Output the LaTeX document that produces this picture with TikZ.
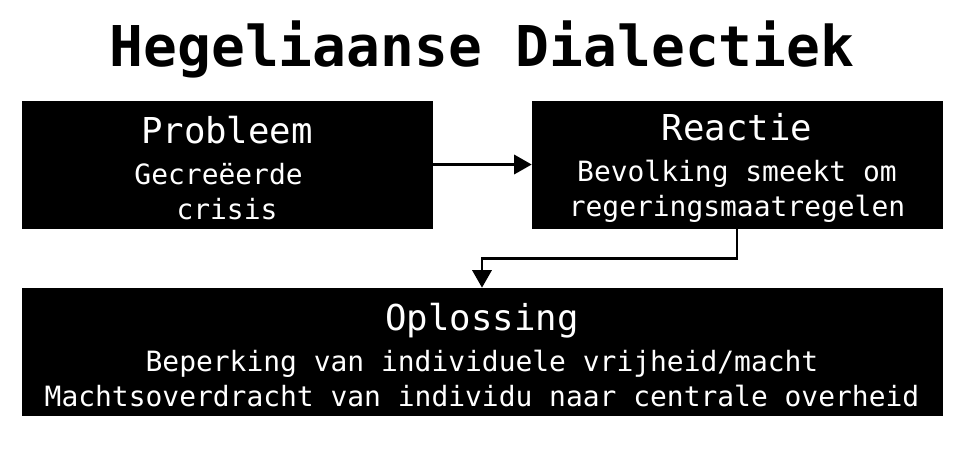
\documentclass[tikz,border=0pt]{standalone}
\usepackage{fontspec}
\setmainfont{DejaVu Sans Mono}
\usepackage{tikz}
\usetikzlibrary{arrows.meta, positioning}

\tikzset{
  stepbox/.style={fill=black, draw=black, text=white, align=center,
    font=\fontsize{15.9}{20}\selectfont, inner sep=0pt},
  flowarrow/.style={-{Triangle[length=10pt, width=11pt]}, line width=1.4pt}
}
\newcommand{\boxhead}[1]{{\fontsize{20.3}{24}\selectfont\rule{0pt}{19.5pt}#1}}

\begin{document}
\begin{tikzpicture}[x=0.02cm, y=-0.02cm]
  \useasboundingbox (0,0) rectangle (964,454);

  % Title
  \node[font=\fontsize{32}{36}\selectfont\bfseries] (title) at (482,49) {Hegeliaanse Dialectiek};

  % --- Boxes ---
  \node[stepbox, minimum width=8.2cm, minimum height=2.54cm] (probleem) at (227,164.5)
       {\boxhead{Probleem}\\[3pt] Gecreëerde\hphantom{x}\\ crisis};
  \node[stepbox, minimum width=8.2cm, minimum height=2.54cm] (reactie) at (737,164.5)
       {\boxhead{Reactie}\\[3pt] Bevolking smeekt om\\ regeringsmaatregelen};
  \node[stepbox, minimum width=18.4cm, minimum height=2.54cm] (oplossing) at (482,351.5)
       {\boxhead{Oplossing}\\[3pt] Beperking van individuele vrijheid/macht\\
        Machtsoverdracht van individu naar centrale overheid};

  % --- Arrows ---
  \draw[flowarrow] (probleem.east) -- (reactie.west);
  \draw[flowarrow] (reactie.south) -- ++(0,30) -| (oplossing.north);
\end{tikzpicture}
\end{document}
